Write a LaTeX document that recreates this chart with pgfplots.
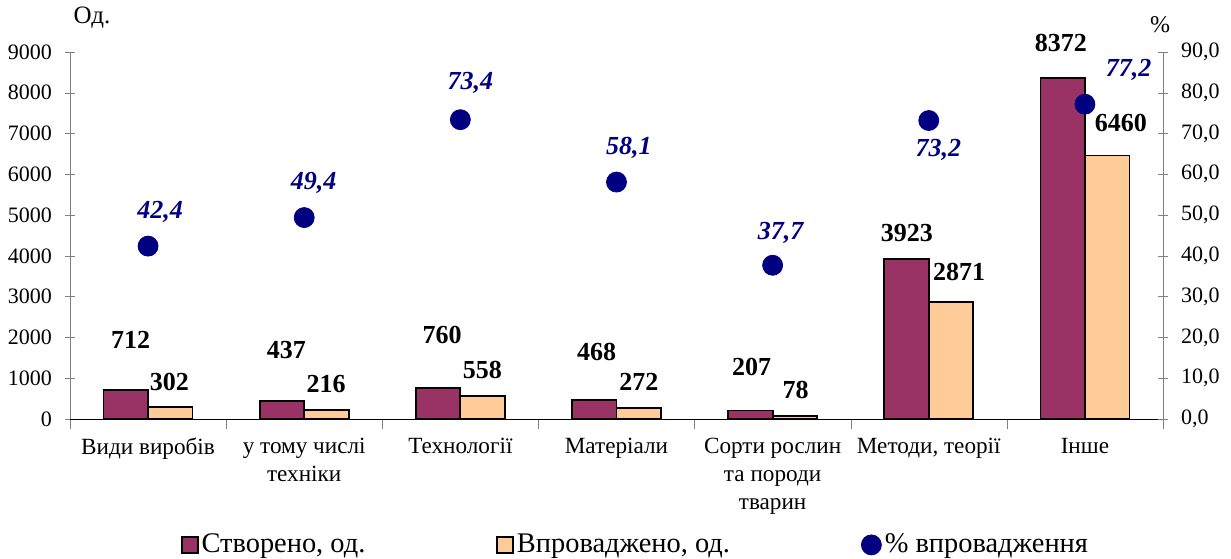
\documentclass[border=0pt]{standalone}
\usepackage{fontspec}
\setmainfont{Liberation Serif}
\usepackage{pgfplots}
\pgfplotsset{compat=1.18}
\definecolor{cre}{HTML}{993366}
\definecolor{imp}{HTML}{FFCC99}
\definecolor{pct}{HTML}{000080}
\definecolor{axgray}{HTML}{808080}
\begin{document}
\begin{tikzpicture}
\begin{axis}[
  name=ax1, at={(0,0)}, anchor=south west,
  scale only axis, width=546.5pt, height=183.5pt,
  xmin=-0.5, xmax=6.5, ymin=0, ymax=9000,
  axis x line*=bottom, axis y line*=left,
  x axis line style={draw=black, -}, y axis line style={draw=axgray, -},
  ybar=0pt, bar width=22.25pt,
  ytick={0,1000,...,9000},
  xtick={-0.5,0.5,...,6.5},
  x tick label as interval,
  xticklabels={Види виробів,у тому числі\\техніки,Технології,Матеріали,Сорти рослин\\та породи\\тварин,{Методи, теорії},Інше},
  xticklabel style={align=center, font=\fontsize{11.6}{14}\selectfont, yshift=-1pt},
  yticklabel style={font=\fontsize{11}{13}\selectfont, xshift=-3pt},
  /pgf/number format/assume math mode=true,
  scaled y ticks=false,
  y tick label style={/pgf/number format/1000 sep={}},
  x tick style={draw=axgray}, y tick style={draw=axgray},
  xtick align=outside, ytick align=center,
  major tick length=5pt,
  clip=false,
]
\addplot[draw=black, line width=0.9pt, fill=cre] coordinates {(0,712) (1,437) (2,760) (3,468) (4,207) (5,3923) (6,8372)};
\addplot[draw=black, line width=0.9pt, fill=imp] coordinates {(0,302) (1,216) (2,558) (3,272) (4,78) (5,2871) (6,6460)};
\begin{scope}[every node/.style={font=\fontsize{13}{15}\selectfont\bfseries}]
\node at (axis cs:-0.111,1937) {712};
\node at (axis cs:0.137,915) {302};
\node at (axis cs:0.885,1692) {437};
\node at (axis cs:1.141,858) {216};
\node at (axis cs:1.883,2060) {760};
\node at (axis cs:2.141,1202) {558};
\node at (axis cs:2.872,1636) {468};
\node at (axis cs:3.143,900) {272};
\node at (axis cs:3.865,1282) {207};
\node at (axis cs:4.147,711) {78};
\node at (axis cs:4.859,4553) {3923};
\node at (axis cs:5.194,3612) {2871};
\node at (axis cs:5.846,9212) {8372};
\node at (axis cs:6.231,7251) {6460};
\end{scope}
\end{axis}
\begin{axis}[
  at={(ax1.south west)}, anchor=south west,
  scale only axis, width=546.5pt, height=183.5pt,
  xmin=-0.5, xmax=6.5, ymin=0, ymax=90,
  axis x line=none, axis y line*=right,
  y axis line style={draw=axgray, -},
  ytick={0,10,...,90},
  yticklabel style={font=\fontsize{11}{13}\selectfont, xshift=3pt, /pgf/number format/.cd, fixed, fixed zerofill, precision=1, use comma},
  /pgf/number format/assume math mode=true,
  y tick style={draw=axgray}, ytick align=center, major tick length=5pt,
  clip=false,
  legend columns=3,
  legend style={draw=none, fill=none, inner sep=0pt, outer sep=0pt,
    at={(0.1016,-0.343)}, anchor=west,
    font=\fontsize{14.2}{16}\selectfont,
    nodes={inner xsep=1.5pt},
    /tikz/column 2/.style={column sep=64pt},
    /tikz/column 4/.style={column sep=64pt}},
]
\addlegendimage{legend image code/.code={\draw[draw=black, line width=0.8pt, fill=cre] (0pt,-4pt) rectangle (8pt,4pt);}}
\addlegendentry{Створено, од.}
\addlegendimage{legend image code/.code={\draw[draw=black, line width=0.8pt, fill=imp] (0pt,-4pt) rectangle (8pt,4pt);}}
\addlegendentry{Впроваджено, од.}
\addplot[only marks, mark=*, mark size=5pt, color=pct, legend image code/.code={\fill[pct] (5pt,0pt) circle (5pt);}] coordinates {(0,42.4) (1,49.4) (2,73.4) (3,58.1) (4,37.7) (5,73.2) (6,77.2)};
\addlegendentry{\% впровадження}
\begin{scope}[every node/.style={font=\fontsize{13}{15}\selectfont\bfseries\itshape, text=pct}]
\node at (axis cs:0.077,50.8) {42,4};
\node at (axis cs:1.060,57.9) {49,4};
\node at (axis cs:2.064,82.3) {73,4};
\node at (axis cs:3.079,66.4) {58,1};
\node at (axis cs:4.051,45.7) {37,7};
\node at (axis cs:5.062,66.1) {73,2};
\node at (axis cs:6.280,85.6) {77,2};
\end{scope}
\node[font=\fontsize{12.5}{14}\selectfont] at (rel axis cs:0,0) [xshift=11pt, yshift=200.5pt] {Од.};
\node[font=\fontsize{12}{14}\selectfont] at (rel axis cs:0,0) [xshift=545pt, yshift=197pt] {\%};
\end{axis}
\pgfresetboundingbox
\path (ax1.south west) ++(-35pt,-69.5pt) rectangle ++(615.5pt,279pt);
\end{tikzpicture}
\end{document}
